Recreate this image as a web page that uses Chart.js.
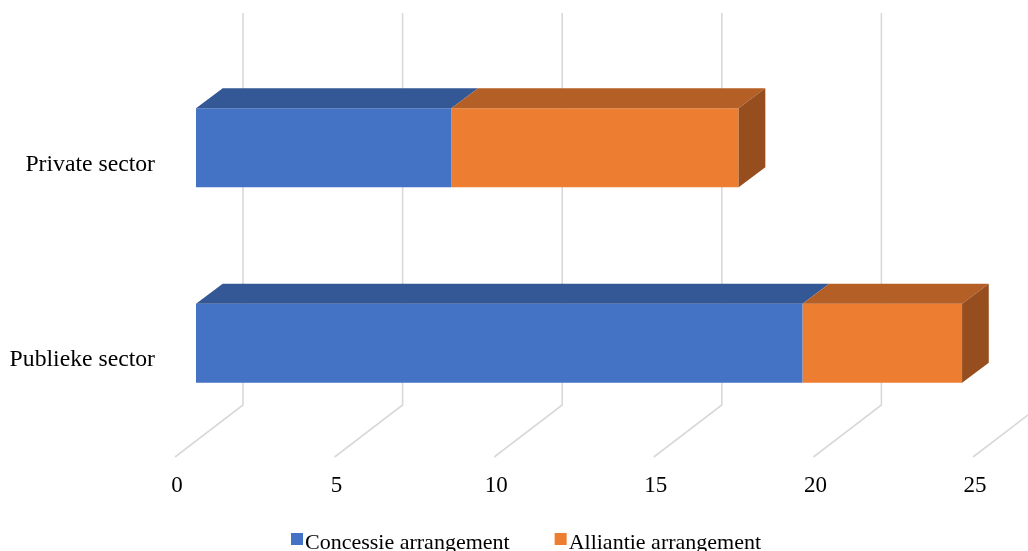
<!DOCTYPE html>
<html>
<head>
<meta charset="utf-8">
<script src="https://cdn.jsdelivr.net/npm/chart.js@4"></script>
<style>
  html, body { margin: 0; padding: 0; background: #fff; }
  #wrap { width: 1028px; height: 551px; position: relative; }
</style>
</head>
<body>
<div id="wrap"><canvas id="chart"></canvas></div>
<script>
// data
const categories = ['Private sector', 'Publieke sector'];
const seriesNames = ['Concessie arrangement', 'Alliantie arrangement'];
const concessie = [8, 19];
const alliantie = [9, 5];
const axisMin = 0;
const axisMax = 25;
const axisStep = 5;

const colors = {
    blue:   { front: '#4472C4', top: '#345795', side: '#2B4A80' },
    orange: { front: '#ED7D31', top: '#B45F25', side: '#964E1E' }
};

// depth of the box (bars) and of the floor
const BAR_DX = 26.7, BAR_DY = 20;
const FLOOR_BACK_DX = 47, FLOOR_FRONT_DX = -21;
const FLOOR_BACK_Y = 405, FLOOR_FRONT_Y = 457, GRID_TOP = 13;

Chart.defaults.font.family = "'Liberation Serif', 'Times New Roman', serif";
Chart.defaults.color = '#000';

// back wall gridlines plus the slanted floor lines
const wallGrid = {
    id: 'wallGrid',
    beforeDatasetsDraw(chart) {
        const ctx = chart.ctx;
        const xs = chart.scales.x;
        ctx.save();
        ctx.strokeStyle = '#d9d9d9';
        ctx.lineWidth = 1.6;
        for (let v = axisMin; v <= axisMax; v += axisStep) {
            const px = xs.getPixelForValue(v);
            ctx.beginPath();
            ctx.moveTo(px + FLOOR_BACK_DX, GRID_TOP);
            ctx.lineTo(px + FLOOR_BACK_DX, FLOOR_BACK_Y);
            ctx.lineTo(px + FLOOR_FRONT_DX, FLOOR_FRONT_Y);
            ctx.stroke();
        }
        ctx.restore();
    }
};

function poly(ctx, pts, fill) {
    ctx.beginPath();
    ctx.moveTo(pts[0][0], pts[0][1]);
    for (let i = 1; i < pts.length; i++) ctx.lineTo(pts[i][0], pts[i][1]);
    ctx.closePath();
    ctx.fillStyle = fill;
    ctx.fill();
}

// top and end faces so the stacked bars look like boxes
const boxFaces = {
    id: 'boxFaces',
    afterDatasetsDraw(chart) {
        const ctx = chart.ctx;
        const n = chart.data.datasets.length;
        ctx.save();
        chart.data.datasets.forEach((ds, di) => {
            const meta = chart.getDatasetMeta(di);
            meta.data.forEach((bar) => {
                const top = bar.y - bar.height / 2;
                const bottom = bar.y + bar.height / 2;
                const x0 = bar.base, x1 = bar.x;
                poly(ctx, [[x0, top], [x1, top], [x1 + BAR_DX, top - BAR_DY], [x0 + BAR_DX, top - BAR_DY]], ds.topColor);
                if (di === n - 1) {
                    poly(ctx, [[x1, top], [x1 + BAR_DX, top - BAR_DY], [x1 + BAR_DX, bottom - BAR_DY], [x1, bottom]], ds.sideColor);
                }
            });
        });
        ctx.restore();
    }
};

// legend along the bottom edge
const bottomLegend = {
    id: 'bottomLegend',
    afterDraw(chart) {
        const ctx = chart.ctx;
        ctx.save();
        ctx.font = "22px 'Liberation Serif', 'Times New Roman', serif";
        ctx.textBaseline = 'alphabetic';
        let x = 291;
        const y = 549;
        chart.data.datasets.forEach((ds) => {
            ctx.fillStyle = ds.backgroundColor;
            ctx.fillRect(x, 533, 12, 12);
            x += 14;
            ctx.fillStyle = '#000';
            ctx.fillText(ds.label, x, y);
            x += ctx.measureText(ds.label).width + 45;
        });
        ctx.restore();
    }
};

new Chart(document.getElementById('chart'), {
    type: 'bar',
    data: {
        labels: categories,
        datasets: [
            {
                label: seriesNames[0],
                data: concessie,
                backgroundColor: colors.blue.front,
                topColor: colors.blue.top,
                sideColor: colors.blue.side
            },
            {
                label: seriesNames[1],
                data: alliantie,
                backgroundColor: colors.orange.front,
                topColor: colors.orange.top,
                sideColor: colors.orange.side
            }
        ]
    },
    options: {
        indexAxis: 'y',
        responsive: true,
        maintainAspectRatio: false,
        devicePixelRatio: 1,
        animation: false,
        categoryPercentage: 0.404,
        barPercentage: 1,
        layout: { padding: { top: 50, right: 34, left: 0, bottom: 0 } },
        plugins: {
            legend: { display: false },
            tooltip: { enabled: false }
        },
        scales: {
            x: {
                stacked: true,
                min: axisMin,
                max: axisMax,
                grid: { display: false, drawTicks: false },
                border: { display: false },
                ticks: {
                    stepSize: axisStep,
                    labelOffset: -19,
                    padding: 31,
                    font: { size: 23 }
                },
                afterFit(scale) {
                    scale.height = 110;
                    scale.paddingLeft = 0;
                    scale.paddingRight = 0;
                }
            },
            y: {
                stacked: true,
                grid: { display: false, drawTicks: false },
                border: { display: false },
                ticks: {
                    labelOffset: 17,
                    padding: 41,
                    font: { size: 23.7 }
                },
                afterFit(scale) {
                    scale.width = 196;
                    scale.paddingTop = 0;
                    scale.paddingBottom = 0;
                }
            }
        }
    },
    plugins: [wallGrid, boxFaces, bottomLegend]
});
</script>
</body>
</html>
